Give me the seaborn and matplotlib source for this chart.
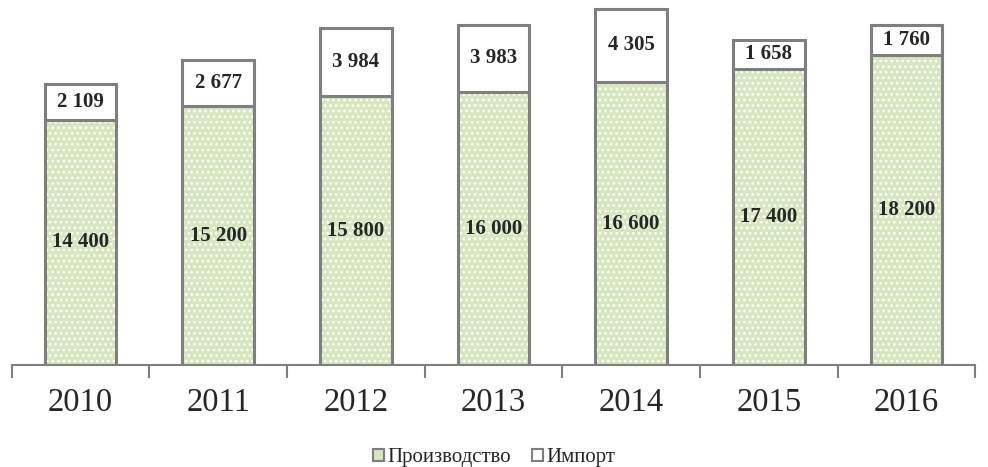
import pandas as pd
import seaborn as sns
import matplotlib.pyplot as plt
from matplotlib.patches import Patch

years = ["2010", "2011", "2012", "2013", "2014", "2015", "2016"]
production = [14400, 15200, 15800, 16000, 16600, 17400, 18200]
imports = [2109, 2677, 3984, 3983, 4305, 1658, 1760]
production_labels = ["14 400", "15 200", "15 800", "16 000", "16 600", "17 400", "18 200"]
import_labels = ["2 109", "2 677", "3 984", "3 983", "4 305", "1 658", "1 760"]

sns.set_style("white")
plt.rcParams['font.family'] = ['Liberation Serif', 'DejaVu Serif']
plt.rcParams['hatch.linewidth'] = 1.2

df = pd.DataFrame({"year": years, "prod": production, "imp": imports})

green = "#d6e6bd"
edge = "#7f7f7f"
width = 0.52

fig = plt.figure(figsize=(9.88, 4.67), dpi=100)
ax = fig.add_axes([0.012, 0.218, 0.975, 0.767])

# production: green with white dots, then outline
sns.barplot(data=df, x="year", y="prod", color=green, width=width, ax=ax,
            saturation=1, hatch="...", edgecolor="white", linewidth=0)
sns.barplot(data=df, x="year", y="prod", width=width, ax=ax,
            fill=False, edgecolor=edge, linewidth=2.2)
# import on top
sns.barplot(data=df, x="year", y="imp", bottom=df["prod"], color="white",
            width=width, ax=ax, saturation=1, edgecolor=edge, linewidth=2.2)

for i in range(len(years)):
    ax.text(i, production[i] / 2, production_labels[i], ha="center", va="center",
            fontsize=15, fontweight="bold")
    ax.text(i, production[i] + imports[i] / 2, import_labels[i], ha="center",
            va="center", fontsize=15, fontweight="bold")

ax.set_ylim(0, 20905 / 0.995)
ax.set_xlim(-0.5, 6.5)
ax.set_xlabel("")
ax.set_ylabel("")
ax.set_yticks([])
for s in ["top", "right", "left"]:
    ax.spines[s].set_visible(False)
ax.spines["bottom"].set_color(edge)
ax.spines["bottom"].set_linewidth(1.5)
ax.set_xticks(range(len(years)))
ax.set_xticklabels(years, fontsize=23.5)
ax.tick_params(axis="x", which="major", length=0, pad=16)
ax.set_xticks([i - 0.5 for i in range(len(years) + 1)], minor=True)
ax.tick_params(axis="x", which="minor", length=9, width=1.5, color=edge, bottom=True)

handles = [Patch(facecolor=green, edgecolor=edge, linewidth=1.5, label="Производство"),
           Patch(facecolor="white", edgecolor=edge, linewidth=1.5, label="Импорт")]
fig.legend(handles=handles, loc="center", bbox_to_anchor=(0.5, 0.02), ncol=2,
           frameon=False, fontsize=15, handlelength=0.55, handleheight=0.55,
           handletextpad=0.15, columnspacing=1.0)

fig.savefig("out.png", dpi=100)
